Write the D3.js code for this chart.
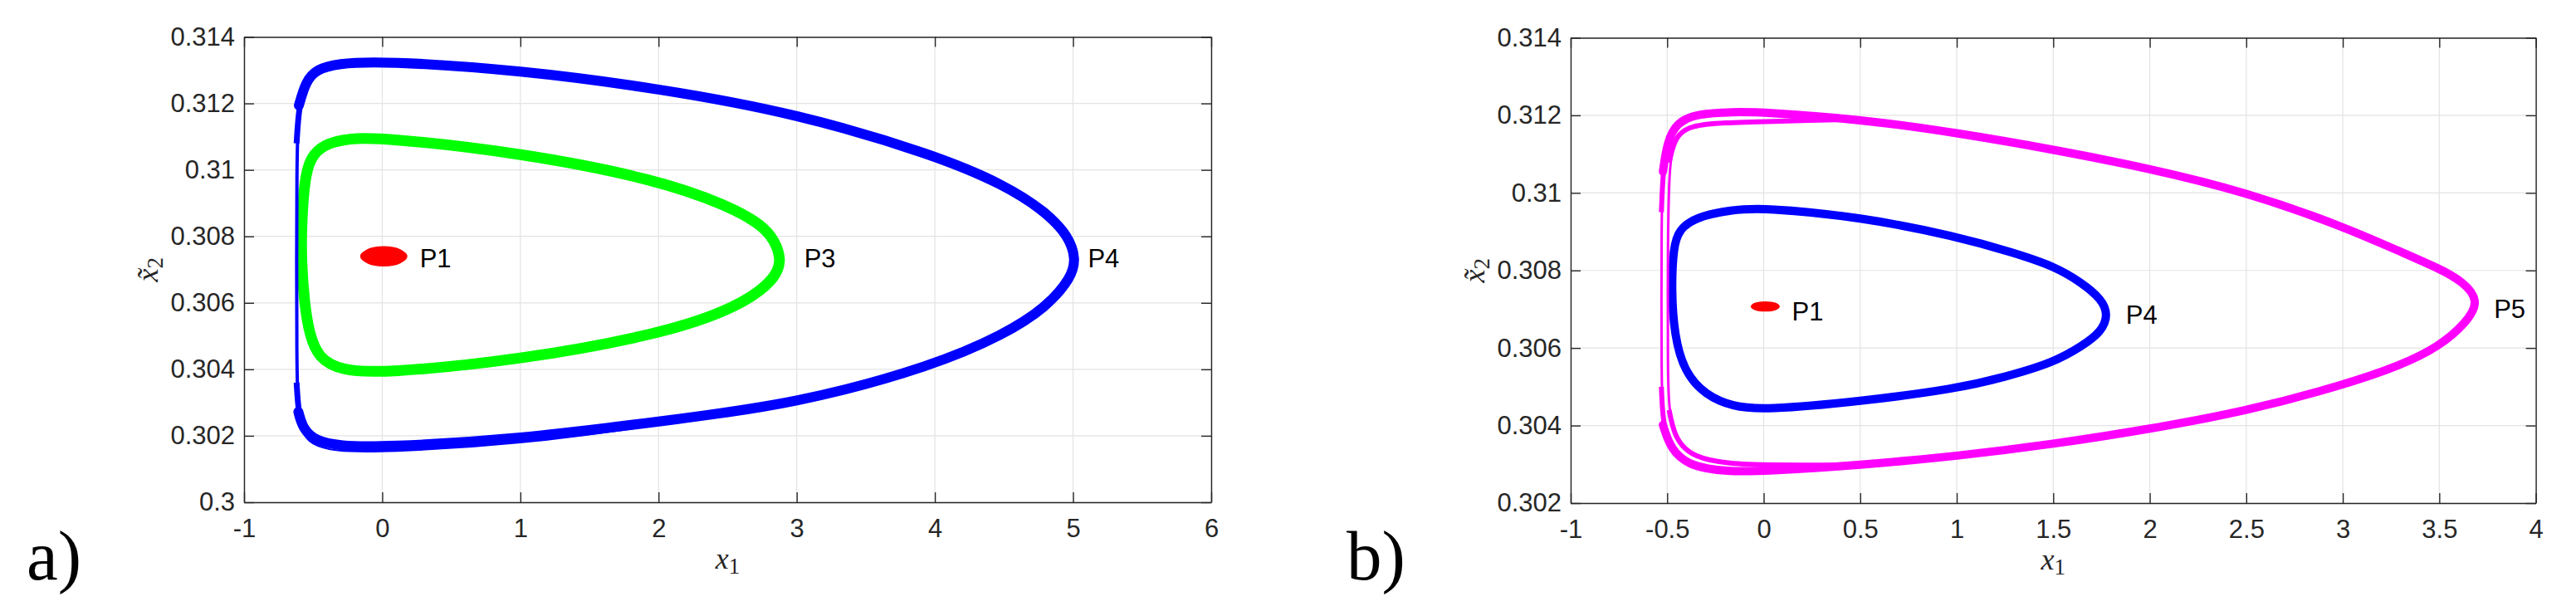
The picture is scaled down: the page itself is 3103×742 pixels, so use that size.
<!DOCTYPE html>
<html>
<head>
<meta charset="utf-8">
<script src="https://cdn.jsdelivr.net/npm/d3@7"></script>
<style>
  body { margin: 0; background: #fff; }
  text { font-family: "Liberation Sans", Arial, sans-serif; }
</style>
</head>
<body>
<script>
/*
  Two phase portraits (x1 vs x2~), limit cycles
*/

// panel a) axes
var xTicksA = [-1, 0, 1, 2, 3, 4, 5, 6];
var yTicksA = [0.3, 0.302, 0.304, 0.306, 0.308, 0.31, 0.312, 0.314];

// panel a) orbits, [x1, x2~]
var aP1 = [[0.176, 0.3074], [0.128, 0.30759], [0.011, 0.30768], [-0.106, 0.30759], [-0.154, 0.3074], [-0.106, 0.30721], [0.011, 0.30712], [0.128, 0.30721]];
var aP3 = [[-0.585, 0.3083], [-0.5625, 0.3097], [-0.522, 0.31037], [-0.42, 0.31078], [-0.241, 0.31095], [0, 0.31097], [1, 0.31052], [2, 0.3097],
           [2.5, 0.30892], [2.705, 0.30845], [2.817, 0.30805], [2.89, 0.30737], [2.86, 0.30688], [2.75, 0.30638], [2.5, 0.30575], [2, 0.30505],
           [1, 0.30428], [0, 0.30388], [-0.299, 0.30397], [-0.46, 0.30433], [-0.527, 0.30505], [-0.562, 0.30594], [-0.585, 0.3072]];
var aP4 = [[-0.62, 0.3108], [-0.603, 0.31194], [-0.554, 0.31266], [-0.478, 0.31302], [-0.33, 0.3132], [0, 0.31328], [1, 0.313], [2, 0.31245],
           [3, 0.3117], [4, 0.31045], [4.5, 0.30956], [4.8, 0.30875], [4.97, 0.308], [5.02, 0.30733], [4.99, 0.30676], [4.8, 0.30584],
           [4.5, 0.30505], [4, 0.30412], [3, 0.30296], [2, 0.30243], [1, 0.3019], [0, 0.30166], [-0.308, 0.30169], [-0.487, 0.30185],
           [-0.576, 0.30223], [-0.607, 0.30272], [-0.62, 0.3036]];
var aP4strand = [[-0.612, 0.3027], [-0.58, 0.3021], [-0.52, 0.30175], [-0.35, 0.30153], [0, 0.3015], [1, 0.30174], [2, 0.30232], [2.6, 0.30272]];

// panel b) axes
var xTicksB = [-1, -0.5, 0, 0.5, 1, 1.5, 2, 2.5, 3, 3.5, 4];
var yTicksB = [0.302, 0.304, 0.306, 0.308, 0.31, 0.312, 0.314];

// panel b) orbits
var bP1 = [[0.079, 0.30707], [0.058, 0.307148], [0.008, 0.30718], [-0.042, 0.307148], [-0.063, 0.30707], [-0.042, 0.306992], [0.008, 0.30696], [0.058, 0.306992]];
var bP4 = [[-0.478, 0.3075], [-0.468, 0.3086], [-0.44, 0.30905], [-0.35, 0.30938], [-0.17, 0.30956], [0, 0.30962], [0.5, 0.30938], [1, 0.30888],
           [1.3, 0.30845], [1.5, 0.30812], [1.65, 0.30768], [1.75, 0.30726], [1.785, 0.30686], [1.75, 0.30642], [1.65, 0.30605], [1.5, 0.30562],
           [1.25, 0.30525], [1, 0.30495], [0.5, 0.30462], [0, 0.3044], [-0.16, 0.30449], [-0.3, 0.30478], [-0.41, 0.30537], [-0.463, 0.30632]];
var bP5 = [[-0.53, 0.3095], [-0.522, 0.31055], [-0.5, 0.31131], [-0.452, 0.31181], [-0.347, 0.31204], [-0.156, 0.31209], [0, 0.31208], [0.5, 0.3119],
           [1, 0.31155], [1.5, 0.31112], [2, 0.31063], [2.5, 0.31002], [3, 0.30914], [3.3, 0.30848], [3.5, 0.30805], [3.62, 0.30772], [3.71, 0.30722],
           [3.64, 0.30665], [3.5, 0.30604], [3.3, 0.30555], [3, 0.30504], [2.5, 0.30437], [2, 0.30391], [1.5, 0.30352], [1, 0.30321],
           [0.5, 0.30298], [0, 0.30282], [-0.188, 0.30281], [-0.379, 0.30294], [-0.481, 0.30337], [-0.522, 0.30402], [-0.53, 0.3050]];
var bP5strand = [[0.5, 0.3119], [0, 0.31184], [-0.204, 0.31181], [-0.379, 0.31174], [-0.459, 0.31147], [-0.49, 0.31078], [-0.497, 0.30863],
                 [-0.497, 0.3052], [-0.49, 0.3044], [-0.459, 0.30363], [-0.363, 0.30317], [-0.172, 0.30301], [0, 0.30298], [0.5, 0.30298]];

// text labels, [x1, x2~, text]
var labelsA = [[0.272, 0.30706, "P1"], [3.054, 0.30706, "P3"], [5.107, 0.30706, "P4"]];
var labelsB = [[0.146, 0.30671, "P1"], [1.876, 0.30663, "P4"], [3.783, 0.30677, "P5"]];

var svg = d3.select("body").append("svg")
  .attr("width", 3103)
  .attr("height", 742)
  .style("background", "#fff");

function drawPanel(box, xDomain, yDomain, xTicks, yTicks, xFmt, orbits, strands, labels, tag){
  var width = box.right - box.left,
      height = box.bottom - box.top;
  var x = d3.scaleLinear().domain(xDomain).range([0, width]);
  var y = d3.scaleLinear().domain(yDomain).range([height, 0]);

  var g = svg.append("g")
    .attr("transform", "translate(" + box.left + "," + box.top + ")");

  //grid
  g.selectAll(".gx").data(xTicks).enter().append("line")
    .attr("x1", function(d){ return x(d); }).attr("x2", function(d){ return x(d); })
    .attr("y1", 0).attr("y2", height)
    .style("stroke", "#e3e3e3").style("stroke-width", 1.2);
  g.selectAll(".gy").data(yTicks).enter().append("line")
    .attr("y1", function(d){ return y(d); }).attr("y2", function(d){ return y(d); })
    .attr("x1", 0).attr("x2", width)
    .style("stroke", "#e3e3e3").style("stroke-width", 1.2);

  var closed = d3.line()
    .x(function(d){ return x(d[0]); })
    .y(function(d){ return y(d[1]); })
    .curve(d3.curveBasisClosed);
  var open = d3.line()
    .x(function(d){ return x(d[0]); })
    .y(function(d){ return y(d[1]); })
    .curve(d3.curveBasis);
  var blob = d3.line()
    .x(function(d){ return x(d[0]); })
    .y(function(d){ return y(d[1]); })
    .curve(d3.curveCatmullRomClosed.alpha(0.5));

  function stroke(path, color, w, cap){
    return path.style("fill", "none")
      .style("stroke", color)
      .style("stroke-width", w)
      .style("stroke-linecap", cap || "butt")
      .style("stroke-linejoin", "round");
  }

  //orbits: the fast vertical part is thin, the slow part is a thick band
  orbits.forEach(function(o){
    if(o.fill){
      g.append("path").attr("d", blob(o.pts))
        .style("fill", o.color).style("stroke", o.color).style("stroke-width", 2);
      return;
    }
    stroke(g.append("path").attr("d", closed(o.pts)), o.color, o.thin);
    if(o.mid){
      stroke(g.append("path").attr("d", open(o.pts)), o.color, o.mid);
      stroke(g.append("path").attr("d", open(o.pts.slice(1, -1))), o.color, o.thick, "round");
    }
  });
  strands.forEach(function(s){
    stroke(g.append("path").attr("d", open(s.pts)), s.color, s.width);
    if(s.thick){
      stroke(g.append("path").attr("d", open(s.pts.slice(0, 6))), s.color, s.thick);
      stroke(g.append("path").attr("d", open(s.pts.slice(-6))), s.color, s.thick);
    }
  });

  //axes
  var axes = [
    g.append("g").attr("transform", "translate(0," + height + ")")
      .call(d3.axisBottom(x).tickValues(xTicks).tickFormat(xFmt).tickSizeInner(-12).tickSizeOuter(0).tickPadding(20)),
    g.append("g")
      .call(d3.axisTop(x).tickValues(xTicks).tickFormat("").tickSizeInner(-12).tickSizeOuter(0)),
    g.append("g")
      .call(d3.axisLeft(y).tickValues(yTicks).tickFormat(function(d){ return String(+d.toFixed(3)); }).tickSizeInner(-12).tickSizeOuter(0).tickPadding(11)),
    g.append("g").attr("transform", "translate(" + width + ",0)")
      .call(d3.axisRight(y).tickValues(yTicks).tickFormat("").tickSizeInner(-12).tickSizeOuter(0))
  ];
  axes.forEach(function(a){
    a.selectAll("path").style("stroke", "#262626").style("stroke-width", 1.4);
    a.selectAll("line").style("stroke", "#262626").style("stroke-width", 1.4);
    a.selectAll("text")
      .style("font-family", "'Liberation Sans', Arial, sans-serif")
      .style("font-size", "31px")
      .style("fill", "#262626");
  });

  //point labels
  g.selectAll(".plabel").data(labels).enter().append("text")
    .attr("x", function(d){ return x(d[0]); })
    .attr("y", function(d){ return y(d[1]); })
    .style("font-size", "31px")
    .style("fill", "#000")
    .text(function(d){ return d[2]; });

  //label for X axis
  var xl = g.append("text")
    .attr("x", width / 2)
    .attr("y", height + 80)
    .style("text-anchor", "middle")
    .style("font-family", "'Liberation Serif', 'DejaVu Serif', serif")
    .style("fill", "#262626");
  xl.append("tspan").style("font-style", "italic").style("font-size", "36px").text("x");
  xl.append("tspan").attr("dy", 6).style("font-size", "27px").text("1");

  //label for Y axis
  var yl = g.append("text")
    .attr("transform", "translate(" + (-110) + "," + (height / 2) + ") rotate(-90)")
    .attr("dy", "0.35em")
    .style("text-anchor", "middle")
    .style("font-family", "'Liberation Serif', 'DejaVu Serif', serif")
    .style("fill", "#262626");
  yl.append("tspan").style("font-style", "italic").style("font-size", "36px").text("x\u0303");
  yl.append("tspan").attr("dy", 6).style("font-size", "27px").text("2");

  //panel tag
  svg.append("text")
    .attr("x", tag.x)
    .attr("y", 698)
    .style("font-family", "'Liberation Serif', 'Times New Roman', serif")
    .style("font-size", "85px")
    .style("fill", "#000")
    .text(tag.text);
}

drawPanel({left: 294, right: 1459, top: 44.5, bottom: 605},
  [-1, 6], [0.3, 0.314], xTicksA, yTicksA,
  function(d){ return String(d); },
  [
    {pts: aP3, color: "#00ff00", thin: 13},
    {pts: aP4, color: "#0000ff", thin: 4, mid: 7, thick: 12},
    {pts: aP1, color: "#ff0000", fill: true}
  ],
  [{pts: aP4strand, color: "#0000ff", width: 2}],
  labelsA, {x: 32, text: "a)"});

drawPanel({left: 1892, right: 3054.6, top: 45.5, bottom: 606},
  [-1, 4], [0.302, 0.314], xTicksB, yTicksB,
  function(d){ return String(+d.toFixed(1)); },
  [
    {pts: bP5, color: "#ff00ff", thin: 3, mid: 6, thick: 10},
    {pts: bP4, color: "#0000ff", thin: 10},
    {pts: bP1, color: "#ff0000", fill: true}
  ],
  [{pts: bP5strand, color: "#ff00ff", width: 3, thick: 6}],
  labelsB, {x: 1622, text: "b)"});
</script>
</body>
</html>
